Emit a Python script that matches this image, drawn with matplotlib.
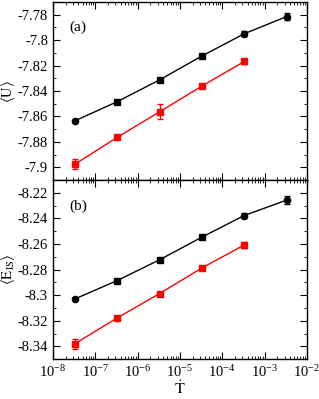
import numpy as np
import matplotlib
matplotlib.use("Agg")
import matplotlib.pyplot as plt
from matplotlib.ticker import FixedLocator, MultipleLocator, FormatStrFormatter, LogFormatterMathtext

plt.rcParams['font.family'] = ['Liberation Serif', 'DejaVu Serif']
plt.rcParams['mathtext.fontset'] = 'stix'
plt.rcParams['axes.unicode_minus'] = False

# cooling rates
rate_black = [3.3e-8, 3.3e-7, 3.3e-6, 3.3e-5, 3.3e-4, 3.3e-3]
rate_red = [3.3e-8, 3.3e-7, 3.3e-6, 3.3e-5, 3.3e-4]

# panel (a): <U>
u_black = [-7.8635, -7.8484, -7.8313, -7.8125, -7.7950, -7.7815]
u_black_err = [0.0008, 0.0012, 0.0012, 0.0008, 0.0018, 0.0030]
u_red = [-7.8976, -7.8765, -7.8564, -7.8362, -7.8168]
u_red_err = [0.0040, 0.0015, 0.0060, 0.0010, 0.0020]

# panel (b): <E_IS>
e_black = [-8.3030, -8.2886, -8.2724, -8.2547, -8.2378, -8.2258]
e_black_err = [0.0008, 0.0012, 0.0012, 0.0008, 0.0018, 0.0030]
e_red = [-8.3380, -8.3178, -8.2988, -8.2788, -8.2608]
e_red_err = [0.0040, 0.0015, 0.0010, 0.0010, 0.0020]

black_markers = ['o', 's', 's', 's', 'o', 'o']

x_decades = np.arange(-8, -1)
x_major = 10.0 ** x_decades
x_minor = [m * 10.0 ** d for d in x_decades[:-1] for m in range(2, 10)]


def draw_panel(ax, yb, yb_err, yr, yr_err):
    ax.plot(rate_black, yb, '-', color='black', lw=1.0)
    ax.errorbar(rate_black, yb, yerr=yb_err, fmt='none', ecolor='black',
                elinewidth=1.0, capsize=2.5, capthick=1.0)
    for x, y, m in zip(rate_black, yb, black_markers):
        ax.plot(x, y, marker=m, color='black', ms=4.5, ls='none')
    ax.errorbar(rate_red, yr, yerr=yr_err, fmt='s-', color='red', ms=4.5,
                lw=1.0, elinewidth=1.0, capsize=2.5, capthick=1.0)
    ax.set_xscale('log')
    ax.set_xlim(1e-8, 1e-2)
    ax.xaxis.set_major_locator(FixedLocator(x_major))
    ax.xaxis.set_major_formatter(LogFormatterMathtext())
    ax.xaxis.set_minor_locator(FixedLocator(x_minor))
    ax.yaxis.set_major_locator(MultipleLocator(0.02))
    ax.yaxis.set_minor_locator(MultipleLocator(0.01))
    ax.yaxis.set_major_formatter(FormatStrFormatter('%g'))
    ax.tick_params(which='both', direction='in', top=True, right=True, labelsize=10.5)
    ax.tick_params(which='major', length=5)
    ax.tick_params(which='minor', length=2.5)
    for s in ax.spines.values():
        s.set_linewidth(1.0)


fig = plt.figure(figsize=(3.19, 3.99), dpi=100)
ax1 = fig.add_axes([0.166, 0.549, 0.796, 0.446])
ax2 = fig.add_axes([0.166, 0.100, 0.796, 0.449], sharex=ax1)

draw_panel(ax1, u_black, u_black_err, u_red, u_red_err)
draw_panel(ax2, e_black, e_black_err, e_red, e_red_err)

ax1.set_ylim(-7.91, -7.77)
ax2.set_ylim(-8.35, -8.21)
ax1.tick_params(labelbottom=False)

ax1.set_ylabel(r'$\langle\mathrm{U}\rangle$', fontsize=10.5)
ax2.set_ylabel(r'$\langle\mathrm{E}_{\mathrm{IS}}\rangle$', fontsize=10.5)
ax2.set_xlabel(r'$\dot{\mathrm{T}}$', fontsize=11.5)
ax1.yaxis.set_label_coords(-0.14, 0.5)
ax2.yaxis.set_label_coords(-0.14, 0.5)
ax2.xaxis.set_label_coords(0.5, -0.12)

ax1.text(0.10, 0.86, '(a)', transform=ax1.transAxes, fontsize=11, ha='center', va='center')
ax2.text(0.10, 0.855, '(b)', transform=ax2.transAxes, fontsize=11, ha='center', va='center')

fig.savefig('out.png', dpi=100)
